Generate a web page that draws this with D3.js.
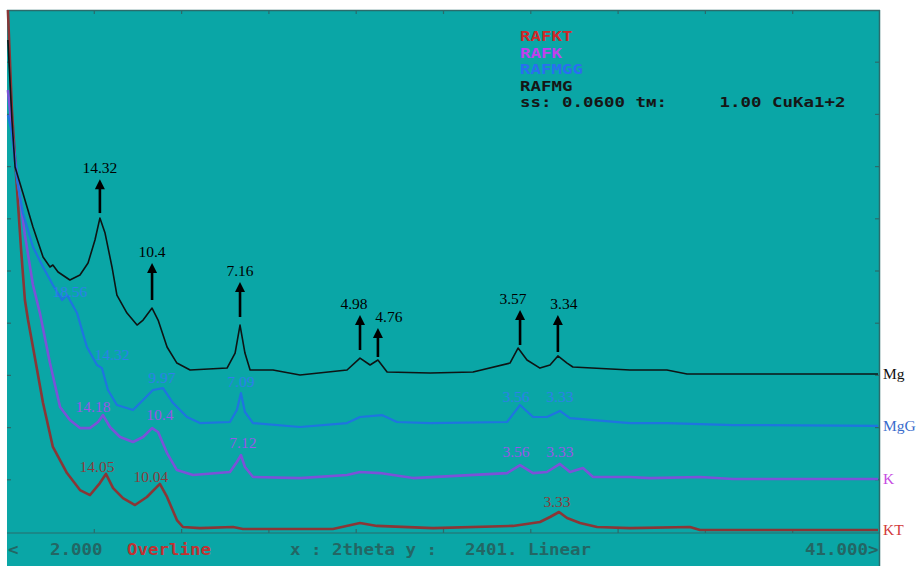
<!DOCTYPE html>
<html><head><meta charset="utf-8">
<script src="https://cdn.jsdelivr.net/npm/d3@7"></script>
<style>body{margin:0;background:#fff}svg{display:block}</style>
</head><body><svg id="c" width="918" height="567"></svg>
<script>
// ---- data: [2theta (deg), counts] ----
const seriesNames = ["KT", "K", "MgG", "Mg"];
const legendNames = ["RAFKT", "RAFK", "RAFMGG", "RAFMG"];
const mg = [[2.04,2263],[2.22,1895],[2.36,1679],[2.71,1559],[3.16,1403],[3.61,1265],[3.92,1219],[4.05,1228],[4.28,1196],[4.81,1159],[5.26,1182],[5.62,1237],[5.93,1343],[6.15,1444],[6.38,1375],[6.69,1219],[6.91,1090],[7.36,1007],[7.81,952],[8.08,975],[8.48,1030],[8.75,975],[9.15,851],[9.59,777],[10.18,745],[11.83,754],[12.19,823],[12.41,952],[12.63,823],[12.86,745],[13.88,745],[15.09,722],[17.19,745],[17.77,800],[18.22,768],[18.57,791],[18.98,736],[20.90,731],[22.82,736],[24.47,777],[24.83,846],[25.23,791],[25.81,754],[26.26,768],[26.61,810],[27.02,777],[27.28,759],[29.83,745],[31.48,745],[32.38,727],[34.88,727],[40.91,727]];
const mgg = [[2.04,1918],[2.22,1835],[2.45,1619],[2.71,1467],[3.16,1311],[3.61,1219],[4.05,1136],[4.46,1067],[4.68,1090],[5.13,1007],[5.57,851],[6.02,768],[6.24,754],[6.51,653],[6.91,584],[7.63,561],[8.08,607],[8.52,653],[8.97,662],[9.42,593],[10.04,529],[10.62,501],[11.96,506],[12.27,561],[12.45,639],[12.63,552],[12.99,501],[15.09,483],[17.19,501],[17.77,529],[18.75,538],[19.42,506],[20.90,501],[24.34,506],[24.92,584],[25.50,529],[26.12,529],[26.70,557],[27.15,524],[29.83,501],[31.48,501],[34.43,492],[40.91,488]];
const k = [[2.04,2033],[2.36,1711],[2.80,1366],[3.16,1136],[3.47,1007],[3.92,777],[4.37,575],[4.81,515],[5.26,478],[5.71,478],[6.07,506],[6.29,538],[6.60,483],[7.05,437],[7.63,414],[8.08,437],[8.48,478],[8.75,460],[9.15,363],[9.59,285],[10.31,262],[11.96,276],[12.27,322],[12.45,354],[12.63,299],[12.99,253],[15.09,248],[17.19,262],[17.77,276],[18.66,271],[20.14,248],[24.34,271],[24.92,308],[25.50,271],[26.12,276],[26.70,313],[27.15,276],[27.73,294],[28.18,253],[29.83,253],[30.72,248],[32.96,253],[34.43,244],[40.91,244]];
const kt = [[2.04,2401],[2.13,2171],[2.22,1941],[2.45,1573],[2.63,1297],[2.80,1067],[2.94,975],[3.16,851],[3.61,593],[4.05,391],[4.68,271],[5.26,193],[5.71,170],[6.15,225],[6.42,267],[6.74,202],[7.18,156],[7.72,124],[8.25,161],[8.83,221],[9.15,161],[9.59,55],[9.86,23],[10.62,18],[12.10,23],[12.54,14],[16.56,14],[17.77,41],[18.53,28],[21.03,18],[24.60,28],[25.81,46],[26.26,69],[26.66,92],[27.02,64],[27.60,41],[28.36,23],[29.83,18],[32.51,23],[32.96,9],[40.91,9]];
// arrows on Mg: [label, 2theta, base count, tip count]
const mgArrows = [["14.32",6.15,1467,1623],["10.4",8.48,1067,1237],["7.16",12.41,989,1150],["4.98",17.77,837,998],["4.76",18.57,805,938],["3.57",24.92,860,1021],["3.34",26.61,828,998]];
// other peak labels: [label, 2theta (label centre), count (label baseline)]
const mggLabels = [["18.56",4.81,1081],["14.32",6.69,791],["9.97",8.92,685],["7.09",12.45,667],["3.56",24.74,598],["3.33",26.70,598]];
const kLabels = [["14.18",5.84,552],["10.4",8.83,515],["7.12",12.54,386],["3.56",24.74,345],["3.33",26.70,345]];
const ktLabels = [["14.05",6.02,276],["10.04",8.43,230],["3.33",26.57,115]];
const xDomain = [2, 41];
const yMax = 2401;

// ---- styles ----
const lineColor = {KT:"#8a3636", K:"#7b52d8", MgG:"#1f74e0", Mg:"#0e1414"};
const lineWidth = {KT:2.6, K:2.6, MgG:2.2, Mg:1.6};
const labColor = {KT:"#8a3b3b", K:"#9a56e8", MgG:"#2f80ea", Mg:"#111"};
const endColor = {KT:"#d23a3a", K:"#c64ae2", MgG:"#3a6ccc", Mg:"#111"};
const legColor = ["#d02828", "#c040ee", "#2a6ff0", "#161616"];
const arrowDx = [0,0,0,-6,11,-7,6];

const svg = d3.select("#c");
const L=7, R=880, T=10, B=532;
const x = d3.scaleLinear().domain(xDomain).range([L, R]);
const y = d3.scaleLinear().domain([0, yMax]).range([B, T]);

svg.append("rect").attr("x",L).attr("y",T).attr("width",R-L).attr("height",566-T).attr("fill","#0aa6a6");
svg.append("line").attr("x1",L).attr("x2",R).attr("y1",T+0.5).attr("y2",T+0.5).attr("stroke","#2b6b6b").attr("stroke-width",1.5);
svg.append("line").attr("x1",R-0.5).attr("x2",R-0.5).attr("y1",T).attr("y2",566).attr("stroke","#2b6b6b").attr("stroke-width",1.5);
svg.append("line").attr("x1",L).attr("x2",R).attr("y1",B+1).attr("y2",B+1).attr("stroke","#2b6b6b").attr("stroke-width",1.2);

const xt = d3.range(1,10).map(i => xDomain[0] + i*(xDomain[1]-xDomain[0])/10);
const yt = d3.range(1,10).map(i => i*yMax/10);
const tg = svg.append("g").attr("stroke","#2b6b6b").attr("stroke-width",1.2);
xt.forEach(v => {
  tg.append("line").attr("x1",x(v)).attr("x2",x(v)).attr("y1",T).attr("y2",T+4);
  tg.append("line").attr("x1",x(v)).attr("x2",x(v)).attr("y1",B+1).attr("y2",B-3);
});
yt.forEach(v => {
  tg.append("line").attr("x1",R).attr("x2",R-5).attr("y1",y(v)).attr("y2",y(v));
  tg.append("line").attr("x1",L).attr("x2",L+4).attr("y1",y(v)).attr("y2",y(v));
});

const line = d3.line().x(d => x(d[0])).y(d => y(d[1]));
const data = {KT:kt, K:k, MgG:mgg, Mg:mg};
seriesNames.forEach(n => {
  svg.append("path").datum(data[n]).attr("d", line).attr("fill","none")
    .attr("stroke", lineColor[n]).attr("stroke-width", lineWidth[n]).attr("stroke-linejoin","round");
});

// end labels
seriesNames.forEach(n => {
  const d = data[n][data[n].length-1];
  svg.append("text").attr("x", 883).attr("y", y(d[1])).attr("dy","0.35em")
    .attr("font-family","Liberation Serif, serif").attr("font-size",15.5).attr("fill",endColor[n]).text(n);
});

// peak labels
const serif = "Liberation Serif, serif";
function labels(arr, col) {
  arr.forEach(d => svg.append("text").attr("x", x(d[1])).attr("y", y(d[2])).attr("text-anchor","middle")
    .attr("font-family",serif).attr("font-size",15.5).attr("fill",col).text(d[0]));
}
labels(mggLabels, labColor.MgG);
labels(kLabels, labColor.K);
labels(ktLabels, labColor.KT);

// arrows
mgArrows.forEach((d,i) => {
  const ax = x(d[1]), yb = y(d[2]), yt2 = y(d[3]);
  svg.append("line").attr("x1",ax).attr("x2",ax).attr("y1",yb).attr("y2",yt2+7).attr("stroke","#000").attr("stroke-width",2.6);
  svg.append("path").attr("d",`M${ax},${yt2}L${ax-5},${yt2+10}L${ax+5},${yt2+10}Z`).attr("fill","#000");
  svg.append("text").attr("x",ax+arrowDx[i]).attr("y",yt2-6).attr("text-anchor","middle")
    .attr("font-family",serif).attr("font-size",15.5).attr("fill","#000").text(d[0]);
});

// legend
const mono = "DejaVu Sans Mono, monospace";
const cw = 10.5;
function monoText(str, x0, y0, col, fs) {
  svg.append("text").attr("x",x0).attr("y",y0).attr("font-family",mono).attr("font-weight","bold")
    .attr("font-size",fs).attr("fill",col).style("white-space","pre")
    .attr("textLength", str.length*cw).attr("lengthAdjust","spacingAndGlyphs").text(str);
}
legendNames.forEach((n,i) => monoText(n, 520, 41+i*16.5, legColor[i], 14));
monoText("ss: 0.0600 tм:     1.00 CuKa1+2", 520, 41+4*16.5, "#161616", 14);

// status line
const stat = [["<",8,"#236664"],["2.000",50,"#236664"],["Overline",127,"#c03232"],["x : 2theta y :",290,"#236664"],["2401. Linear",465,"#236664"],["41.000>",805,"#236664"]];
stat.forEach(s => monoText(s[0], s[1], 555, s[2], 15));
</script></body></html>
